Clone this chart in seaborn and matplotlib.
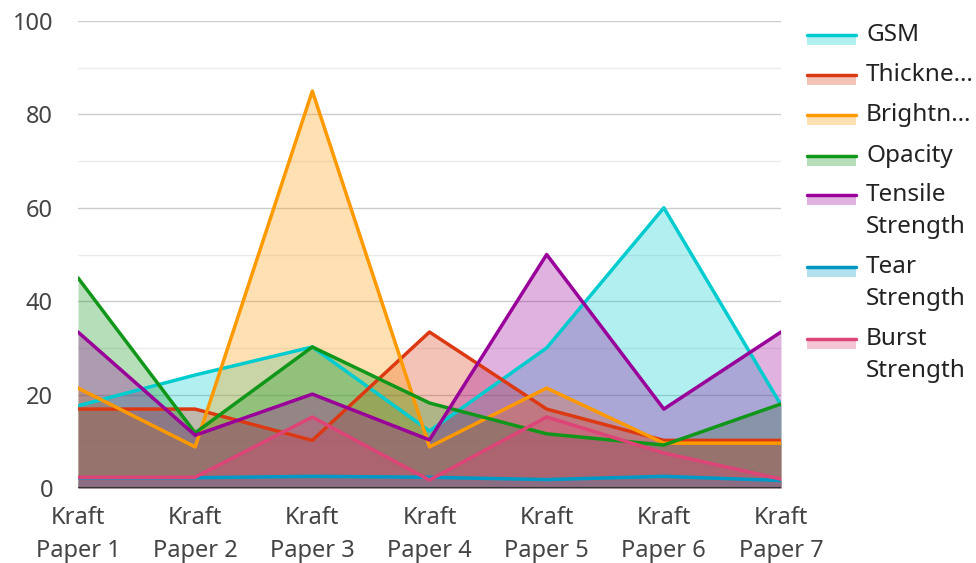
import pandas as pd
import numpy as np
import matplotlib
matplotlib.use("Agg")
import matplotlib.pyplot as plt
import seaborn as sns
from matplotlib.patches import Rectangle
from matplotlib.lines import Line2D

# data
papers = ["Kraft Paper 1", "Kraft Paper 2", "Kraft Paper 3", "Kraft Paper 4",
          "Kraft Paper 5", "Kraft Paper 6", "Kraft Paper 7"]
gsm = [17.6, 24.2, 30.2, 12.2, 30.0, 60.0, 17.8]
thickness = [16.9, 16.9, 10.2, 33.4, 16.9, 10.2, 10.2]
brightness = [21.4, 8.8, 85.0, 8.8, 21.4, 9.6, 9.6]
opacity = [45.0, 11.8, 30.2, 18.2, 11.6, 9.2, 18.0]
tensile = [33.4, 11.3, 20.1, 10.3, 50.0, 16.9, 33.4]
tear = [2.2, 2.2, 2.5, 2.3, 1.8, 2.5, 1.6]
burst = [2.3, 2.3, 15.2, 1.7, 15.2, 7.5, 1.9]

series_names = ["GSM", "Thickness", "Brightness", "Opacity",
                "Tensile Strength", "Tear Strength", "Burst Strength"]
legend_labels = ["GSM", "Thickne…", "Brightn…", "Opacity",
                 "Tensile\nStrength", "Tear\nStrength", "Burst\nStrength"]
colors = ["#00CCCF", "#DC3912", "#FF9900", "#109618", "#990099", "#0099C6", "#DD4477"]

values = [gsm, thickness, brightness, opacity, tensile, tear, burst]
df = pd.concat([pd.DataFrame({"paper": papers, "value": v, "series": n})
                for n, v in zip(series_names, values)], ignore_index=True)

sns.set_style("white")
plt.rcParams["font.family"] = ["Noto Sans", "DejaVu Sans"]

fig = plt.figure(figsize=(9.76, 5.63), dpi=100)
ax = fig.add_axes([78 / 976, 75 / 563, 703 / 976, 467 / 563])

xs = np.arange(len(papers))
for n, v, c in zip(series_names, values, colors):
    ax.fill_between(xs, 0, v, color=c, alpha=0.3, linewidth=0, zorder=2)

sns.lineplot(data=df, x="paper", y="value", hue="series", hue_order=series_names,
             palette=colors, linewidth=2.5, legend=False, ax=ax, zorder=3, sort=False)

ax.set_xlim(0, len(papers) - 1)
ax.set_ylim(0, 100)
ax.set_yticks(range(0, 101, 20))
ax.set_yticks(range(10, 100, 20), minor=True)
ax.grid(axis="y", which="major", color="#cccccc", linewidth=1, zorder=0)
ax.grid(axis="y", which="minor", color="#ebebeb", linewidth=1, zorder=0)
ax.set_axisbelow(True)
ax.axhline(0, color="#333333", linewidth=1.5, zorder=4)
for s in ax.spines.values():
    s.set_visible(False)

ax.set_xticks(xs)
ax.set_xticklabels([p.replace(" Paper", "\nPaper") for p in papers],
                   fontsize=17, color="#444444", linespacing=1.5)
ax.tick_params(axis="both", length=0, labelsize=17, colors="#444444")
ax.tick_params(axis="x", pad=13)
ax.tick_params(axis="y", pad=18)
ax.set_xlabel("")
ax.set_ylabel("")

# legend drawn by hand, one swatch (line over light fill) per series
ys = [32, 72, 112, 153, 192, 264, 336]
for lab, c, y in zip(legend_labels, colors, ys):
    fy = 1 - (y + 3) / 563
    fig.patches.append(Rectangle((807 / 976, fy - 10 / 563), 49 / 976, 10 / 563,
                                 transform=fig.transFigure, color=c, alpha=0.3, lw=0))
    fig.lines.append(Line2D([807 / 976, 856 / 976], [fy, fy], transform=fig.transFigure,
                            color=c, linewidth=2.5))
    fig.text(866 / 976, 1 - (y - 9) / 563, lab, fontsize=17.5, color="#222222",
             va="top", ha="left", linespacing=1.45)

fig.savefig("out.png", dpi=100)
